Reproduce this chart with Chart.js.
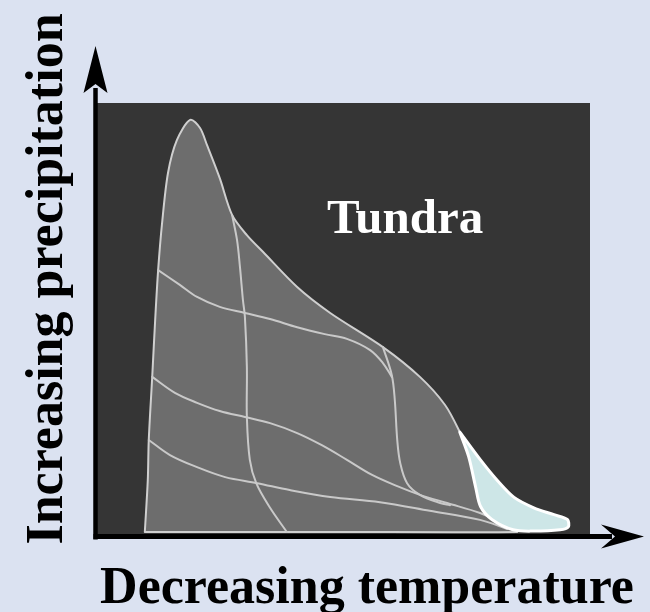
<!DOCTYPE html>
<html><head><meta charset="utf-8">
<script src="https://cdn.jsdelivr.net/npm/chart.js@4.4.1/dist/chart.umd.min.js"></script>
<style>html,body{margin:0;padding:0;background:#dbe2f1;}canvas{display:block;}</style>
</head><body>
<canvas id="c" width="650" height="612"></canvas>
<script>
// Biome envelope (temperature index 0-100 = decreasing temperature, precipitation index 0-100)
const biomeTemp   = [9.7,10.3,10.5,11.2,11.8,12.4,13.2,14.4,16.2,18.9,20.9,22.3,24.9,27.4,30.4,33.7,40.6,47.3,58.0,65.5,70.6,73.6,75.7,77.1,78.1,80.3,84.4,85.2,47.3,9.7];
const biomePrecip = [0.7,12.7,22.0,36.6,49.8,61.3,72.2,83.8,91.4,96.1,94.2,90.3,82.6,74.1,69.4,65.5,57.4,51.4,43.5,36.6,30.1,23.8,18.1,11.1,6.5,3.5,1.2,0.7,0.7,0.7];
// Tundra region
const tundraTemp   = [73.6,77.9,81.3,84.6,88.6,92.7,95.4,95.6,93.9,88.4,84.4,80.1,77.8,76.8,75.4,73.6];
const tundraPrecip = [23.8,17.2,12.5,8.7,6.3,4.7,3.6,1.9,1.2,0.9,1.2,3.6,6.6,11.1,18.1,23.8];
// Internal biome boundaries
const border1Temp   = [27.4,28.4,29.0,29.6,30.0,30.4,30.4,31.0,32.3,35.1,38.5];
const border1Precip = [74.1,68.3,62.0,54.4,50.5,38.9,27.3,17.4,12.0,6.3,0.7];
const border2Temp   = [58.0,59.8,60.4,60.9,61.5,62.9,65.5,69.6,71.6];
const border2Precip = [43.5,37.0,31.3,22.0,16.7,12.0,9.3,7.4,6.9];
const border3Temp   = [12.4,16.8,20.3,24.9,30.0,35.1,40.6,46.2,50.7,55.4,58.0,59.8];
const border3Precip = [61.3,57.9,55.1,52.8,51.4,50.0,48.1,46.5,45.4,42.8,39.8,36.6];
const border4Temp   = [11.2,15.8,20.3,24.9,30.0,35.1,40.6,45.6,50.7,55.8,60.9,65.5,71.0,77.7,81.7,84.4];
const border4Precip = [36.6,32.9,30.6,28.7,27.3,25.9,23.6,20.8,17.4,13.9,11.3,9.3,7.4,5.1,3.0,1.2];
const border5Temp   = [10.5,14.8,20.3,26.0,32.5,39.1,47.3,57.4,67.5,77.7,83.2];
const border5Precip = [22.0,18.5,15.7,13.4,12.0,10.4,8.8,7.6,5.6,3.5,1.4];

const xLabel = 'Decreasing temperature';
const yLabel = 'Increasing precipitation';
const regionLabel = 'Tundra';
const regionLabelPos = [62.5, 69.9];

const pts = (xs, ys) => xs.map((x, i) => ({x, y: ys[i]}));
const lineDs = (xs, ys) => ({data: pts(xs, ys), showLine: true, pointRadius: 0, borderColor: '#c9c9c9', borderWidth: 2, tension: 0.35, fill: false, order: 5});

const deco = {
  id: 'deco',
  beforeDraw(chart) {
    const {ctx, chartArea: a} = chart;
    ctx.save();
    ctx.fillStyle = '#dbe2f1';
    ctx.fillRect(0, 0, chart.width, chart.height);
    ctx.fillStyle = '#353535';
    ctx.fillRect(a.left, a.top, a.right - a.left, a.bottom - a.top);
    ctx.restore();
  },
  afterDraw(chart) {
    const {ctx, chartArea: a, scales} = chart;
    ctx.save();
    ctx.fillStyle = '#000';
    ctx.strokeStyle = '#000';
    // y axis
    const ax = a.left - 1.5, ay = a.bottom + 1.5;
    ctx.lineWidth = 4.5;
    ctx.beginPath(); ctx.moveTo(ax, ay + 3); ctx.lineTo(ax, a.top - 15); ctx.stroke();
    ctx.beginPath();
    ctx.moveTo(ax, a.top - 57); ctx.lineTo(ax - 12, a.top - 10); ctx.lineTo(ax, a.top - 19); ctx.lineTo(ax + 12, a.top - 10); ctx.closePath(); ctx.fill();
    // x axis
    ctx.lineWidth = 5;
    ctx.beginPath(); ctx.moveTo(ax - 2, ay); ctx.lineTo(a.right + 22, ay); ctx.stroke();
    ctx.beginPath();
    ctx.moveTo(a.right + 54, ay); ctx.lineTo(a.right + 11, ay - 12); ctx.lineTo(a.right + 25, ay); ctx.lineTo(a.right + 11, ay + 12); ctx.closePath(); ctx.fill();
    // axis titles
    ctx.font = 'bold 52px "Liberation Serif", serif';
    ctx.textAlign = 'center';
    ctx.textBaseline = 'alphabetic';
    ctx.fillText(xLabel, 367, 603);
    ctx.save();
    ctx.translate(62, 279);
    ctx.rotate(-Math.PI / 2);
    ctx.font = 'bold 52px "Liberation Serif", serif';
    ctx.fillText(yLabel, 0, 0);
    ctx.restore();
    // region label
    ctx.fillStyle = '#ffffff';
    ctx.font = 'bold 49px "Liberation Serif", serif';
    ctx.fillText(regionLabel, scales.x.getPixelForValue(regionLabelPos[0]), scales.y.getPixelForValue(regionLabelPos[1]));
    ctx.restore();
  }
};

new Chart(document.getElementById('c'), {
  type: 'scatter',
  data: {
    datasets: [
      {data: pts(tundraTemp, tundraPrecip), showLine: true, pointRadius: 0, borderColor: '#ffffff', borderWidth: 3, backgroundColor: '#cde6e7', fill: 'shape', tension: 0.3, order: 1},
      lineDs(border1Temp, border1Precip),
      lineDs(border2Temp, border2Precip),
      lineDs(border3Temp, border3Precip),
      lineDs(border4Temp, border4Precip),
      lineDs(border5Temp, border5Precip),
      {data: pts(biomeTemp, biomePrecip), showLine: true, pointRadius: 0, borderColor: '#cfcfcf', borderWidth: 2, backgroundColor: '#6d6d6d', fill: 'shape', tension: 0.3, order: 10}
    ]
  },
  options: {
    responsive: false,
    animation: false,
    layout: {padding: {left: 97, right: 60, top: 103, bottom: 77}},
    scales: {
      x: {type: 'linear', min: 0, max: 100, display: false},
      y: {type: 'linear', min: 0, max: 100, display: false}
    },
    plugins: {legend: {display: false}, tooltip: {enabled: false}},
    elements: {line: {borderJoinStyle: 'round', borderCapStyle: 'round'}}
  },
  plugins: [deco]
});
</script>
</body></html>
